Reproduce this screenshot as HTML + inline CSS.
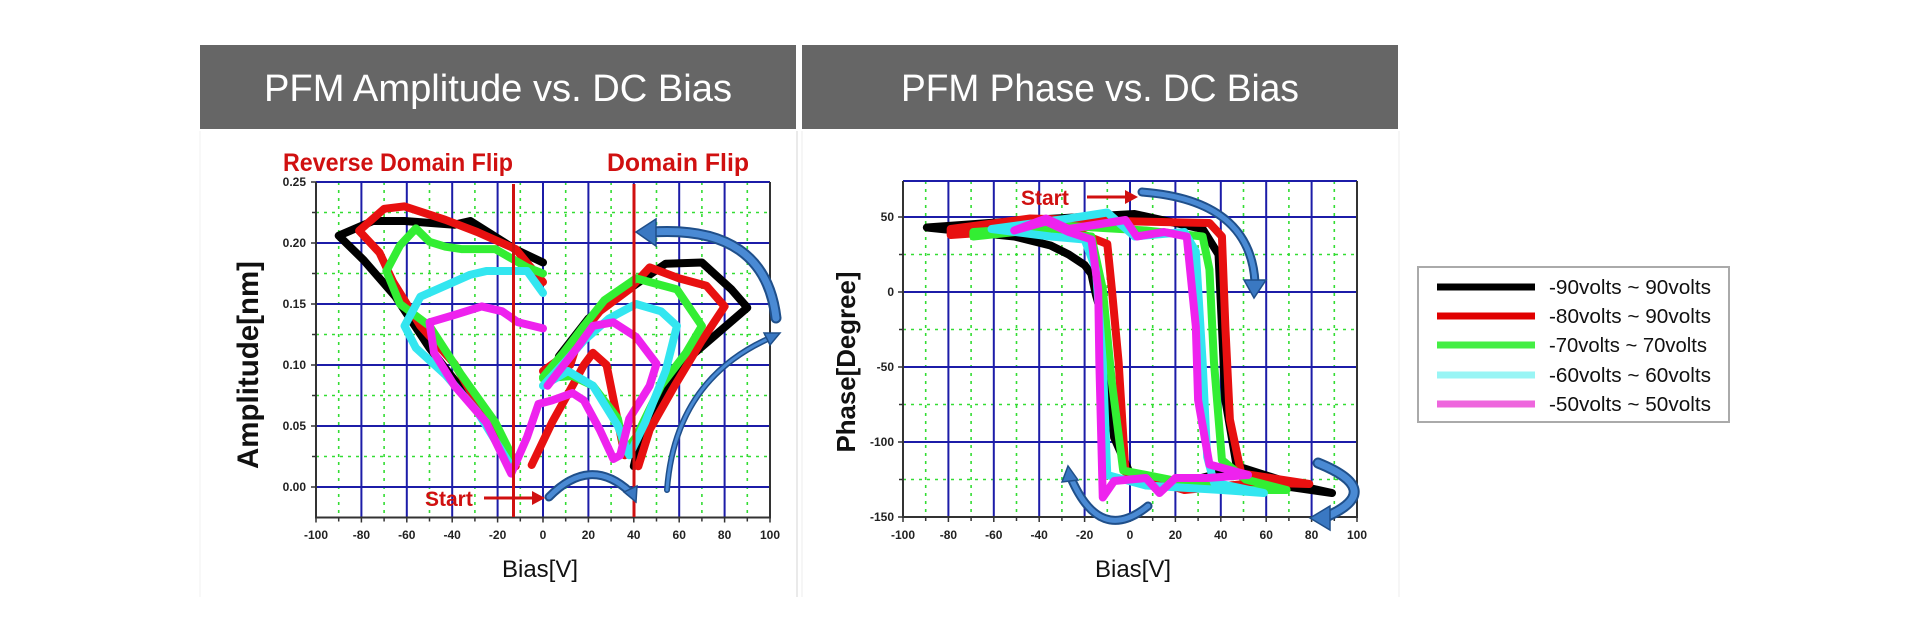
<!DOCTYPE html>
<html><head><meta charset="utf-8"><style>
html,body{margin:0;padding:0;background:#fff}
svg{display:block}
text{font-family:"Liberation Sans",Arial,sans-serif}
.tk{font-size:12px;font-weight:bold;fill:#222}
</style></head><body>
<svg width="1920" height="634" viewBox="0 0 1920 634" xmlns="http://www.w3.org/2000/svg">
<rect width="1920" height="634" fill="#fff"/>
<rect x="200" y="45" width="596" height="84" fill="#666"/>
<rect x="802" y="45" width="596" height="84" fill="#666"/>
<text x="498" y="101" font-size="38" fill="#fff" text-anchor="middle" textLength="468" lengthAdjust="spacingAndGlyphs">PFM Amplitude vs. DC Bias</text>
<text x="1100" y="101" font-size="38" fill="#fff" text-anchor="middle" textLength="398" lengthAdjust="spacingAndGlyphs">PFM Phase vs. DC Bias</text>
<line x1="797" y1="131" x2="797" y2="597" stroke="#e4e4e4" stroke-width="1.5"/>
<line x1="802" y1="131" x2="802" y2="597" stroke="#eee" stroke-width="1"/>
<line x1="200" y1="131" x2="200" y2="597" stroke="#f0f0f0" stroke-width="1"/>
<line x1="1399" y1="131" x2="1399" y2="597" stroke="#eee" stroke-width="1"/>

<g fill="none">
<path stroke="#33dd33" stroke-width="1.6" stroke-dasharray="3,5" d="M338.7 182V517M384.1 182V517M429.5 182V517M474.9 182V517M520.3 182V517M565.7 182V517M611.1 182V517M656.5 182V517M701.9 182V517M747.3 182V517M316 212.5H770M316 273.5H770M316 334.5H770M316 395.5H770M316 456.5H770"/>
<path stroke="#1c1ca8" stroke-width="2" d="M361.4 182V517M406.8 182V517M452.2 182V517M497.6 182V517M543 182V517M588.4 182V517M633.8 182V517M679.2 182V517M724.6 182V517M316 243H770M316 304H770M316 365H770M316 426H770M316 487H770M316 182H770"/>
<path stroke="#333" stroke-width="2" d="M316 182V517.5H770V182"/>
<path stroke="#333" stroke-width="1.5" d="M316 517.5v5M338.7 517.5v4M361.4 517.5v5M384.1 517.5v4M406.8 517.5v5M429.5 517.5v4M452.2 517.5v5M474.9 517.5v4M497.6 517.5v5M520.3 517.5v4M543 517.5v5M565.7 517.5v4M588.4 517.5v5M611.1 517.5v4M633.8 517.5v5M656.5 517.5v4M679.2 517.5v5M701.9 517.5v4M724.6 517.5v5M747.3 517.5v4M770 517.5v5M311 182h5M312 212.5h4M311 243h5M312 273.5h4M311 304h5M312 334.5h4M311 365h5M312 395.5h4M311 426h5M312 456.5h4M311 487h5"/>
</g>
<g class="tk" text-anchor="end">
<text x="306" y="186">0.25</text><text x="306" y="247">0.20</text><text x="306" y="308">0.15</text><text x="306" y="369">0.10</text><text x="306" y="430">0.05</text><text x="306" y="491">0.00</text>
</g>
<g class="tk" text-anchor="middle">
<text x="316" y="539">-100</text><text x="361.4" y="539">-80</text><text x="406.8" y="539">-60</text><text x="452.2" y="539">-40</text><text x="497.6" y="539">-20</text><text x="543" y="539">0</text><text x="588.4" y="539">20</text><text x="633.8" y="539">40</text><text x="679.2" y="539">60</text><text x="724.6" y="539">80</text><text x="770" y="539">100</text>
</g>
<text x="540" y="577" font-size="24" fill="#111" text-anchor="middle">Bias[V]</text>
<text transform="translate(258,365) rotate(-90)" font-size="30" font-weight="bold" fill="#111" text-anchor="middle" textLength="208" lengthAdjust="spacingAndGlyphs">Amplitude[nm]</text>
<text x="283" y="171" font-size="25" font-weight="bold" fill="#d01010" textLength="230" lengthAdjust="spacingAndGlyphs">Reverse Domain Flip</text>
<text x="607" y="171" font-size="25" font-weight="bold" fill="#d01010" textLength="142" lengthAdjust="spacingAndGlyphs">Domain Flip</text>

<g transform="matrix(2.27 0 0 -1220 543 487)" fill="none" stroke-linejoin="round" stroke-linecap="round">
<path vector-effect="non-scaling-stroke" stroke-width="8" stroke="#000" d="M0 0.184L-12.4 0.195L-32 0.218L-39 0.215L-61 0.218L-75 0.218L-90 0.206L-79 0.186L-65 0.156L-50 0.114L-32 0.071L-14 0.02M40 0.017L43 0.041L56 0.086L65 0.107L90 0.147L83 0.162L70 0.184L54 0.183L40 0.165L20 0.138L7 0.107"/>
<path vector-effect="non-scaling-stroke" stroke-width="8" stroke="#e81010" d="M0 0.168L-12 0.195L-29 0.209L-43 0.219L-61 0.23L-70 0.228L-81 0.21L-72 0.192L-66 0.168L-54 0.132L-39 0.101L-25 0.056L-12 0.017M-5 0.018L4 0.053L13 0.083L18 0.1L22 0.11L28 0.1L36 0.026M0 0.095L11 0.11L16 0.123M42 0.017L47 0.047L58 0.083L70 0.12L80 0.148L72 0.165L60 0.171L47 0.18L38 0.162L25 0.144L16 0.123L12 0.1"/>
<path vector-effect="non-scaling-stroke" stroke-width="8" stroke="#33ee33" d="M0 0.175L-7 0.18L-21 0.195L-36 0.195L-43 0.197L-50 0.201L-56 0.212L-63 0.198L-69 0.177L-63 0.15L-50 0.132L-36 0.092L-21 0.053L-13 0.023M0 0.089L13 0.091L22 0.083L33 0.056L36 0.029L41 0.041L52 0.083L63 0.11L70 0.132L59 0.162L41 0.171L27 0.153L18 0.132L9 0.11L0 0.09"/>
<path vector-effect="non-scaling-stroke" stroke-width="8" stroke="#33e6f0" d="M0 0.159L-7 0.177L-25 0.177L-32 0.174L-43 0.165L-54 0.156L-61 0.132L-56 0.114L-43 0.092L-29 0.062L-14 0.017M0 0.083L11 0.095L22 0.083L33 0.05L38 0.026L45 0.053L54 0.095L59 0.132L52 0.144L41 0.15L29 0.138L18 0.12L9 0.101L0 0.083"/>
<path vector-effect="non-scaling-stroke" stroke-width="8" stroke="#ee22ee" d="M0 0.13L-11 0.135L-18 0.144L-27 0.148L-39 0.141L-50 0.135L-48 0.11L-39 0.083L-25 0.053L-14 0.011L-7 0.041L-2 0.068L4 0.071L13 0.077L18 0.071L25 0.047L31 0.023L34 0.026L38 0.056L47 0.083L50 0.101L41 0.123L31 0.135L22 0.132L15 0.114L7 0.095L2 0.083"/>
</g>
<line x1="513.5" y1="184" x2="513.5" y2="517" stroke="#d01010" stroke-width="3"/>
<line x1="634" y1="184" x2="634" y2="517" stroke="#d01010" stroke-width="3"/>
<text x="425" y="506" font-size="21" font-weight="bold" fill="#d01010">Start</text>
<line x1="484" y1="498" x2="535" y2="498" stroke="#d01010" stroke-width="3"/>
<polygon points="545,498 532,491 532,505" fill="#d01010"/>
<g fill="none" stroke-linecap="round">
<path d="M549 497 Q590 455 630 492" stroke="#1f4f8a" stroke-width="9"/>
<path d="M549 497 Q590 455 630 492" stroke="#4a8ad4" stroke-width="5"/>
<path d="M776 318 Q765 225 652 232" stroke="#1f4f8a" stroke-width="11"/>
<path d="M776 318 Q765 225 652 232" stroke="#4a8ad4" stroke-width="7"/>
<path d="M667 490 Q675 380 770 338" stroke="#1f4f8a" stroke-width="6"/>
<path d="M667 490 Q675 380 770 338" stroke="#4a8ad4" stroke-width="3"/>
</g>
<polygon points="636,502 624,492 637,486" fill="#3a78c2" stroke="#1f4f8a" stroke-width="1.5"/>
<polygon points="636,232 656,219 656,246" fill="#3a78c2" stroke="#1f4f8a" stroke-width="1.5"/>
<polygon points="780,333 764,333 770,345" fill="#3a78c2" stroke="#1f4f8a" stroke-width="1.5"/>

<g fill="none">
<path stroke="#33dd33" stroke-width="1.6" stroke-dasharray="3,5" d="M925.7 181V517M971.1 181V517M1016.5 181V517M1061.9 181V517M1107.3 181V517M1152.7 181V517M1198.1 181V517M1243.5 181V517M1288.9 181V517M1334.3 181V517M903 254.5H1357M903 329.5H1357M903 404.5H1357M903 479.5H1357"/>
<path stroke="#1c1ca8" stroke-width="2" d="M948.4 181V517M993.8 181V517M1039.2 181V517M1084.6 181V517M1130 181V517M1175.4 181V517M1220.8 181V517M1266.2 181V517M1311.6 181V517M903 217H1357M903 292H1357M903 367H1357M903 442H1357M903 181H1357"/>
<path stroke="#333" stroke-width="2" d="M903 181V517H1357V181"/>
<path stroke="#333" stroke-width="1.5" d="M903 517v5M925.7 517v4M948.4 517v5M971.1 517v4M993.8 517v5M1016.5 517v4M1039.2 517v5M1061.9 517v4M1084.6 517v5M1107.3 517v4M1130 517v5M1152.7 517v4M1175.4 517v5M1198.1 517v4M1220.8 517v5M1243.5 517v4M1266.2 517v5M1288.9 517v4M1311.6 517v5M1334.3 517v4M1357 517v5M898 217h5M899 254.5h4M898 292h5M899 329.5h4M898 367h5M899 404.5h4M898 442h5M899 479.5h4M898 517h5"/>
</g>
<g class="tk" text-anchor="end">
<text x="894" y="221">50</text><text x="894" y="296">0</text><text x="894" y="371">-50</text><text x="894" y="446">-100</text><text x="894" y="521">-150</text>
</g>
<g class="tk" text-anchor="middle">
<text x="903" y="539">-100</text><text x="948.4" y="539">-80</text><text x="993.8" y="539">-60</text><text x="1039.2" y="539">-40</text><text x="1084.6" y="539">-20</text><text x="1130" y="539">0</text><text x="1175.4" y="539">20</text><text x="1220.8" y="539">40</text><text x="1266.2" y="539">60</text><text x="1311.6" y="539">80</text><text x="1357" y="539">100</text>
</g>
<text x="1133" y="577" font-size="24" fill="#111" text-anchor="middle">Bias[V]</text>
<text transform="translate(855,362) rotate(-90)" font-size="26" font-weight="bold" fill="#111" text-anchor="middle" textLength="181" lengthAdjust="spacingAndGlyphs">Phase[Degree]</text>

<g transform="matrix(2.27 0 0 -1.5 1130 292)" fill="none" stroke-linejoin="round" stroke-linecap="round">
<path vector-effect="non-scaling-stroke" stroke-width="8" stroke="#000" d="M-89.5 43L-51 37L-35 31L-27 25L-20 18L-17 12L-15 -2L-13.5 -10L-10 -47L-7 -97L0 -121L24 -127L44 -119L57 -127L89 -134L74 -129L47 -116L42 -72L40.5 -23L39 25L32 42L2 52L-44 48L-89.5 43Z"/>
<path vector-effect="non-scaling-stroke" stroke-width="8" stroke="#e81010" d="M-79 38L-51 41L-20 38L-10 32L-8 2L-5 -47L-2 -120L24 -132L57 -127L79 -128L49 -121L44 -85L42 -23L40.5 37L35 46L3 47L-44 49L-79 42Z"/>
<path vector-effect="non-scaling-stroke" stroke-width="8" stroke="#33ee33" d="M-69 37L-44 41L-17 37L-12 2L-8 -60L-3 -119L24 -127L49 -132L69 -132L51 -125L40.5 -112L37 -47L35 15L32 37L7 41L-27 44L-69 40Z"/>
<path vector-effect="non-scaling-stroke" stroke-width="8" stroke="#33e6f0" d="M-61 42L-35 37L-20 35L-15 15L-12 -47L-10 -122L7 -129L40.5 -132L59 -134L37 -127L34 -110L32 -47L29 27L24 40L2 37L-10 53L-27 49L-61 42Z"/>
<path vector-effect="non-scaling-stroke" stroke-width="8" stroke="#ee22ee" d="M-51 41L-37 47L-27 40L-17 35L-14 2L-13.5 -47L-12 -137L-7 -126L7 -124L13 -134L20 -124L34 -124L52 -122L35 -115L30 -72L29 -23L25 37L15 40L3 37L-2 48L-27 42L-37 49L-51 41Z"/>
</g>
<text x="1021" y="205" font-size="21" font-weight="bold" fill="#d01010">Start</text>
<line x1="1087" y1="197" x2="1128" y2="197" stroke="#d01010" stroke-width="3"/>
<polygon points="1138,197 1125,190 1125,204" fill="#d01010"/>
<g fill="none" stroke-linecap="round">
<path d="M1142 192 Q1250 200 1255 282" stroke="#1f4f8a" stroke-width="9"/>
<path d="M1142 192 Q1250 200 1255 282" stroke="#4a8ad4" stroke-width="5"/>
<path d="M1148 506 Q1100 545 1071 478" stroke="#1f4f8a" stroke-width="9"/>
<path d="M1148 506 Q1100 545 1071 478" stroke="#4a8ad4" stroke-width="5"/>
<path d="M1318 463 Q1385 490 1328 516" stroke="#1f4f8a" stroke-width="11"/>
<path d="M1318 463 Q1385 490 1328 516" stroke="#4a8ad4" stroke-width="7"/>
</g>
<polygon points="1254,298 1244,280 1266,280" fill="#3a78c2" stroke="#1f4f8a" stroke-width="1.5"/>
<polygon points="1068,466 1062,482 1078,480" fill="#3a78c2" stroke="#1f4f8a" stroke-width="1.5"/>
<polygon points="1310,518 1330,506 1330,530" fill="#3a78c2" stroke="#1f4f8a" stroke-width="1.5"/>

<rect x="1418" y="267" width="311" height="155" fill="#fff" stroke="#aaa" stroke-width="2"/>
<g stroke-width="7">
<line x1="1437" y1="287" x2="1535" y2="287" stroke="#000"/>
<line x1="1437" y1="316" x2="1535" y2="316" stroke="#e00000"/>
<line x1="1437" y1="345" x2="1535" y2="345" stroke="#44ee44"/>
<line x1="1437" y1="375" x2="1535" y2="375" stroke="#99f5f5"/>
<line x1="1437" y1="404" x2="1535" y2="404" stroke="#ee66dd"/>
</g>
<g font-size="20" fill="#111">
<text x="1549" y="294" textLength="162" lengthAdjust="spacingAndGlyphs">-90volts ~ 90volts</text>
<text x="1549" y="323" textLength="162" lengthAdjust="spacingAndGlyphs">-80volts ~ 90volts</text>
<text x="1549" y="352" textLength="158" lengthAdjust="spacingAndGlyphs">-70volts ~ 70volts</text>
<text x="1549" y="382" textLength="162" lengthAdjust="spacingAndGlyphs">-60volts ~ 60volts</text>
<text x="1549" y="411" textLength="162" lengthAdjust="spacingAndGlyphs">-50volts ~ 50volts</text>
</g>
</svg>
</body></html>
